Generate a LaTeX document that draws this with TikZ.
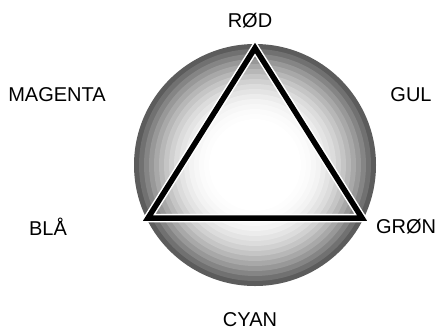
\documentclass[tikz,border=0pt]{standalone}
\usepackage{fontspec}
\setmainfont{Liberation Sans}
\usepackage{tikz}
\usetikzlibrary{calc}
\usetikzlibrary{positioning}

\tikzset{
  colname/.style={font=\fontsize{20}{24}\selectfont, inner sep=0pt, anchor=center},
}

\begin{document}
\begin{tikzpicture}[x=1pt,y=-1pt]
\useasboundingbox (0,0) rectangle (439,330);
\coordinate (c) at (255,165);
    % the shaded disc, drawn as rings
    \foreach \i in {0,1,...,15} {
      \pgfmathsetmacro{\shade}{64*(1-\i/16)^2.2}
      \fill[black!\shade] (c) circle [radius={(121-5*\i)*1pt}];
    }
    \fill[white] (c) circle [radius=40pt];

    % corners of the triangle
    \coordinate (rod) at (255,48);
    \coordinate (bla) at (148,218);
    \coordinate (gron) at (362,218);

    \draw[white,line width=8.5pt,line join=miter] (rod) -- (bla) -- (gron) -- cycle;
    \draw[black,line width=5.5pt,line join=miter] (rod) -- (bla) -- (gron) -- cycle;

    % the six colour names
    \node[colname] (lrod) at (250,21) {RØD};
    \node[colname] (lmagenta) at (57,95) {MAGENTA};
    \node[colname] (lgul) at (411,95) {GUL};
    \node[colname] (lbla) at (48,227) {BLÅ};
    \node[colname] (lgron) at (406,227) {GRØN};
    \node[colname] (lcyan) at (250,320) {CYAN};

\end{tikzpicture}
\end{document}
